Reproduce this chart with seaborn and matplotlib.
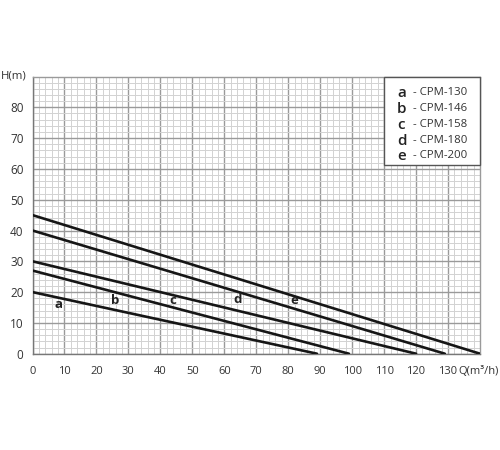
import matplotlib
matplotlib.use("Agg")
import matplotlib.pyplot as plt
from matplotlib.ticker import MultipleLocator
from matplotlib.patches import Rectangle
import seaborn as sns
import pandas as pd

# ---- data ----
curve_ids = ["a", "b", "c", "d", "e"]
models = ["CPM-130", "CPM-146", "CPM-158", "CPM-180", "CPM-200"]
q_points = [[0, 89], [0, 99], [0, 120], [0, 129], [0, 140]]
h_points = [[20, 0], [27, 0], [30, 0], [40, 0], [45, 0]]
label_q = [8, 26, 44, 64, 82]
label_h = [16, 17.3, 17.3, 17.7, 17.3]
x_ticks = list(range(0, 140, 10))
y_ticks = list(range(0, 90, 10))

rows = []
for cid, qs, hs in zip(curve_ids, q_points, h_points):
    for q, h in zip(qs, hs):
        rows.append({"curve": cid, "Q": q, "H": h})
df = pd.DataFrame(rows)

sns.set_style("white")
plt.rcParams["font.family"] = ["Open Sans", "DejaVu Sans"]

fig = plt.figure(figsize=(5, 4.5), dpi=100)
ax = fig.add_axes([0.065, 0.214, 0.895, 0.616])

sns.lineplot(data=df, x="Q", y="H", units="curve", estimator=None,
             color="#161616", linewidth=1.9, ax=ax, legend=False, zorder=3)

ax.set_xlim(0, 140)
ax.set_ylim(0, 90)
ax.xaxis.set_minor_locator(MultipleLocator(2))
ax.yaxis.set_minor_locator(MultipleLocator(2))
ax.set_xticks(x_ticks)
ax.set_yticks(y_ticks)
ax.set_xticklabels([str(t) for t in x_ticks])
ax.set_yticklabels([str(t) for t in y_ticks])
ax.grid(which="major", color="#9a9a9a", linewidth=1.0, zorder=1)
ax.grid(which="minor", color="#d2d2d2", linewidth=0.7, zorder=0)
ax.set_axisbelow(True)
ax.tick_params(which="major", direction="out", length=5, width=1,
               color="#8a8a8a", labelcolor="#333333", pad=2)
ax.tick_params(axis="x", which="major", labelsize=8, pad=3.5)
ax.tick_params(axis="y", which="major", labelsize=8.5, pad=1.5)
ax.tick_params(which="minor", length=0)
for side, sp in ax.spines.items():
    sp.set_color("#9a9a9a")
    sp.set_linewidth(1.0)
ax.spines["left"].set_color("#777777")
ax.spines["bottom"].set_color("#777777")
ax.set_xlabel("")
ax.set_ylabel("")

for cid, q, h in zip(curve_ids, label_q, label_h):
    ax.text(q, h, cid, ha="center", va="center", fontsize=9.5,
            fontweight="bold", color="#222222", zorder=4)

ax.text(-0.071, 1.0, "H(m)", transform=ax.transAxes, ha="left",
        va="center", fontsize=8.2, color="#333333")
ax.text(0.951, -0.066, "Q(m³/h)", transform=ax.transAxes, ha="left",
        va="center", fontsize=8, color="#333333", clip_on=False)

# legend box
ax.add_patch(Rectangle((0.785, 0.681), 0.215, 0.319, transform=ax.transAxes,
                       facecolor="white", edgecolor="#555555", linewidth=1.0,
                       zorder=5, clip_on=False))
row_y = [0.941, 0.883, 0.826, 0.768, 0.714]
for cid, m, yy in zip(curve_ids, models, row_y):
    ax.text(0.815, yy, cid, transform=ax.transAxes, ha="left", va="center",
            fontsize=11, fontweight="semibold", color="#222222", zorder=6)
    ax.text(0.850, yy, "- " + m, transform=ax.transAxes, ha="left",
            va="center", fontsize=8.2, color="#333333", zorder=6)

fig.savefig("out.png", dpi=100, facecolor="white")
